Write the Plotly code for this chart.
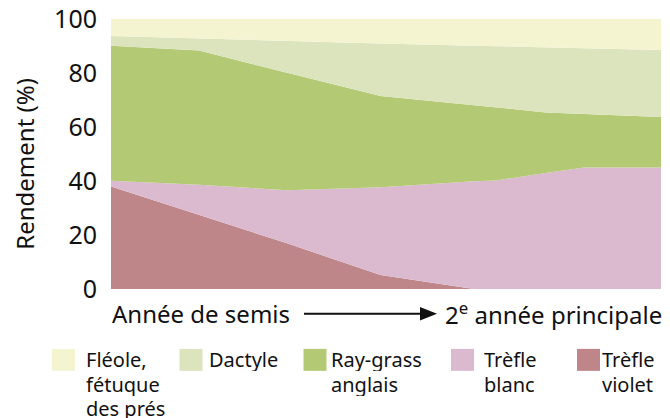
import plotly.graph_objects as go

# ---- data ----
x_pos = [0, 16, 32, 49, 66, 70, 79, 86, 100]  # timeline position, % of the way from sowing year to 2nd main year
series_names = ["Trèfle violet", "Trèfle blanc", "Ray-grass anglais", "Dactyle", "Fléole, fétuque des prés"]
trefle_violet = [38.0, 27.5, 16.9, 5.2, 0, 0, 0, 0, 0]
trefle_blanc = [2.1, 11.1, 19.7, 32.5, 39.9, 40.2, 43.0, 45.0, 45.0]
ray_grass = [50.0, 49.7, 43.5, 33.8, 28.2, 27.0, 22.4, 19.8, 18.7]
dactyle = [3.6, 4.4, 11.6, 19.4, 22.0, 22.7, 24.1, 24.4, 24.8]
fleole = [6.3, 7.3, 8.3, 9.1, 9.9, 10.1, 10.5, 10.8, 11.5]
y_ticks = [0, 20, 40, 60, 80, 100]
y_title = "Rendement (%)"
x_start_label = "Année de semis"
x_end_label = "2<sup>e</sup> année principale"
legend_order = ["Fléole, fétuque des prés", "Dactyle", "Ray-grass anglais", "Trèfle blanc", "Trèfle violet"]
legend_lines = [["Fléole,", "fétuque", "des prés"], ["Dactyle"], ["Ray-grass", "anglais"], ["Trèfle", "blanc"], ["Trèfle", "violet"]]

# ---- styles ----
colors = {
    "Fléole, fétuque des prés": "#f4f4d1",
    "Dactyle": "#dce4bd",
    "Ray-grass anglais": "#b3c973",
    "Trèfle blanc": "#dbbad0",
    "Trèfle violet": "#bf8689",
}
FONT = "Noto Sans"
INK = "#111111"
W, H = 670, 418
L, R, T, B = 111, 661, 19, 289.5


def xp(px):
    return (px - L) / (R - L)


def yp(py):
    return (B - py) / (B - T)


fig = go.Figure()
values = [trefle_violet, trefle_blanc, ray_grass, dactyle, fleole]
for name, vals in zip(series_names, values):
    fig.add_trace(go.Scatter(
        x=x_pos, y=vals, name=name, mode="lines", stackgroup="one",
        line=dict(width=0, color=colors[name]), fillcolor=colors[name],
        showlegend=False,
    ))

fig.update_layout(
    width=W, height=H,
    margin=dict(l=L, r=W - R, t=T, b=H - B, pad=0, autoexpand=False),
    paper_bgcolor="white", plot_bgcolor="white",
    font=dict(family=FONT, color=INK),
    xaxis=dict(range=[0, 100], showticklabels=False, showgrid=False, zeroline=False,
               showline=False, ticks="", automargin=False),
    yaxis=dict(range=[0, 100], tickvals=y_ticks, showgrid=False, zeroline=False,
               showline=False, ticks="", tickfont=dict(size=25, family=FONT, color=INK),
               ticklabelstandoff=13, automargin=False),
)

# y-axis title
fig.add_annotation(text=y_title, xref="paper", yref="paper", x=xp(25), y=yp(164),
                   textangle=-90, showarrow=False, font=dict(size=24, family=FONT, color=INK),
                   xanchor="center", yanchor="middle")

# x description texts and arrow
fig.add_annotation(text=x_start_label, xref="paper", yref="paper", x=xp(110), y=yp(314),
                   showarrow=False, xanchor="left", yanchor="middle",
                   font=dict(size=24, family=FONT, color=INK))
fig.add_annotation(text=x_end_label, xref="paper", yref="paper", x=xp(664), y=yp(314),
                   showarrow=False, xanchor="right", yanchor="middle",
                   font=dict(size=24, family=FONT, color=INK))
fig.add_shape(type="line", xref="paper", yref="paper", x0=xp(304), x1=xp(424), y0=yp(314.3), y1=yp(314.3),
              line=dict(color=INK, width=2.2))
fig.add_shape(type="path", xref="paper", yref="paper",
              path=f"M {xp(420)} {yp(307.5)} L {xp(437)} {yp(314.3)} L {xp(420)} {yp(321.1)} Z",
              fillcolor=INK, line=dict(width=0))

# legend (squares + labels)
sq_x = [52, 179.5, 303.5, 451, 577]
txt_x = [83.5, 207, 328.5, 482, 600]
for name, lines, sx, tx in zip(legend_order, legend_lines, sq_x, txt_x):
    fig.add_shape(type="rect", xref="paper", yref="paper", x0=xp(sx), x1=xp(sx + 23),
                  y0=yp(349.5), y1=yp(371.5), fillcolor=colors[name], line=dict(width=0))
    for k, line in enumerate(lines):
        fig.add_annotation(text=line, xref="paper", yref="paper", x=xp(tx), y=yp(360 + 24.3 * k),
                           showarrow=False, xanchor="left", yanchor="middle", height=24, valign="middle",
                           font=dict(size=20, family=FONT, color=INK))

fig.write_html("out.html", config={"displayModeBar": False},
               post_script="document.body.style.margin='0px';")
